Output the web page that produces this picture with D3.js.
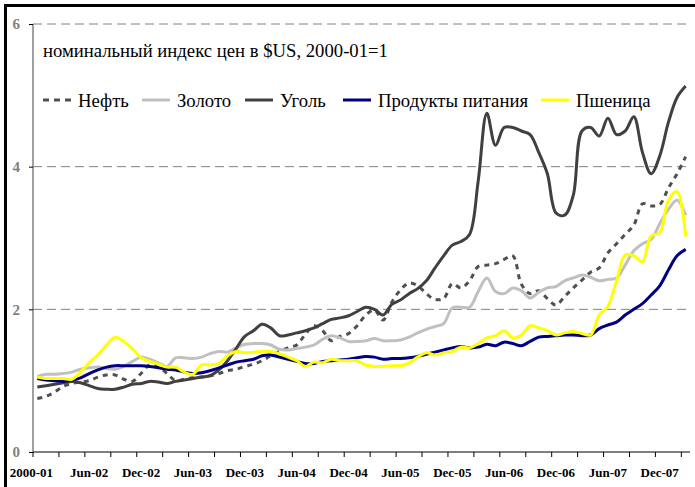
<!DOCTYPE html>
<html>
<head>
<meta charset="utf-8">
<script src="https://cdn.jsdelivr.net/npm/d3@7"></script>
<style>
  body { margin: 0; background: #fff; }
  svg { display: block; font-family: "Liberation Serif", "Times New Roman", serif; }
</style>
</head>
<body>
<svg id="chart"></svg>
<script>
const width = 695;
const height = 487;

// categories: first point is the base, then monthly Jan-02 .. Mar-08
const fmt = d3.timeFormat("%b-%y");
const months = d3.range(76).map(i => i === 0 ? "2000-01" : fmt(new Date(2001, 11 + i, 1)));

const oil = [0.75, 0.78, 0.84, 0.92, 0.96, 0.98, 1.00, 1.05, 1.08, 1.08,
  1.02, 0.99, 1.10, 1.22, 1.20, 1.10, 1.00, 1.02, 1.04, 1.05,
  1.07, 1.10, 1.14, 1.16, 1.20, 1.23, 1.28, 1.35, 1.41, 1.46,
  1.50, 1.65, 1.77, 1.70, 1.56, 1.62, 1.66, 1.77, 1.92, 1.99,
  1.85, 2.10, 2.27, 2.37, 2.33, 2.22, 2.14, 2.15, 2.36, 2.30,
  2.40, 2.60, 2.62, 2.64, 2.70, 2.75, 2.35, 2.22, 2.26, 2.15,
  2.06, 2.18, 2.30, 2.41, 2.52, 2.58, 2.79, 2.92, 3.05, 3.18,
  3.48, 3.45, 3.47, 3.70, 3.90, 4.14];

const gold = [1.06, 1.09, 1.09, 1.10, 1.12, 1.16, 1.18, 1.19, 1.17, 1.16,
  1.20, 1.27, 1.33, 1.30, 1.25, 1.20, 1.32, 1.32, 1.31, 1.33,
  1.38, 1.41, 1.40, 1.46, 1.51, 1.52, 1.52, 1.50, 1.44, 1.43,
  1.45, 1.47, 1.50, 1.58, 1.63, 1.60, 1.55, 1.55, 1.56, 1.59,
  1.56, 1.56, 1.57, 1.61, 1.67, 1.72, 1.76, 1.80, 2.02, 2.03,
  2.03, 2.25, 2.44, 2.25, 2.22, 2.30, 2.26, 2.16, 2.24, 2.30,
  2.32, 2.40, 2.44, 2.48, 2.45, 2.40, 2.42, 2.44, 2.62, 2.82,
  2.92, 2.98, 3.20, 3.40, 3.53, 3.32];

const coal = [0.91, 0.93, 0.95, 0.97, 0.99, 0.97, 0.93, 0.89, 0.88, 0.88,
  0.91, 0.95, 0.96, 0.99, 0.98, 0.96, 0.99, 1.01, 1.03, 1.05,
  1.07, 1.15, 1.28, 1.45, 1.62, 1.70, 1.79, 1.74, 1.63, 1.64,
  1.67, 1.70, 1.74, 1.80, 1.86, 1.88, 1.91, 1.97, 2.03, 2.00,
  1.92, 2.07, 2.13, 2.22, 2.29, 2.40, 2.58, 2.75, 2.90, 2.95,
  3.05, 3.80, 4.75, 4.30, 4.55, 4.55, 4.50, 4.45, 4.20, 3.90,
  3.35, 3.32, 3.60, 4.50, 4.55, 4.43, 4.68, 4.45, 4.50, 4.70,
  4.20, 3.90, 4.15, 4.62, 4.97, 5.13];

const food = [1.03, 1.01, 1.00, 0.99, 1.01, 1.04, 1.10, 1.15, 1.19, 1.21,
  1.21, 1.21, 1.21, 1.20, 1.18, 1.16, 1.15, 1.12, 1.10, 1.11,
  1.14, 1.18, 1.22, 1.26, 1.28, 1.30, 1.35, 1.36, 1.33, 1.30,
  1.27, 1.24, 1.24, 1.27, 1.28, 1.29, 1.30, 1.32, 1.34, 1.33,
  1.30, 1.31, 1.31, 1.32, 1.34, 1.37, 1.40, 1.43, 1.46, 1.48,
  1.46, 1.47, 1.51, 1.49, 1.54, 1.52, 1.49, 1.55, 1.61, 1.62,
  1.63, 1.64, 1.64, 1.63, 1.64, 1.73, 1.78, 1.82, 1.92, 2.00,
  2.08, 2.20, 2.33, 2.55, 2.75, 2.84];

const wheat = [1.05, 1.03, 1.03, 1.03, 1.02, 1.12, 1.25, 1.36, 1.50, 1.61,
  1.55, 1.45, 1.32, 1.27, 1.23, 1.19, 1.19, 1.12, 1.09, 1.22,
  1.22, 1.24, 1.35, 1.41, 1.39, 1.40, 1.41, 1.41, 1.38, 1.33,
  1.28, 1.20, 1.26, 1.25, 1.30, 1.28, 1.28, 1.28, 1.22, 1.20,
  1.20, 1.21, 1.21, 1.25, 1.33, 1.39, 1.36, 1.39, 1.41, 1.47,
  1.46, 1.52, 1.60, 1.63, 1.70, 1.60, 1.64, 1.77, 1.74, 1.70,
  1.64, 1.67, 1.69, 1.66, 1.64, 1.92, 2.04, 2.40, 2.76, 2.75,
  2.67, 3.03, 3.07, 3.53, 3.65, 3.02];

const yTicks = [0, 2, 4, 6];
const title = "номинальный индекс цен в $US, 2000-01=1";

const series = [
  { name: "Нефть", values: oil, color: "#505050", dash: "5,5", legendX: 43 },
  { name: "Золото", values: gold, color: "#c0c0c0", dash: null, legendX: 142 },
  { name: "Уголь", values: coal, color: "#404040", dash: null, legendX: 245 },
  { name: "Продукты питания", values: food, color: "#000080", dash: null, legendX: 343 },
  { name: "Пшеница", values: wheat, color: "#ffff00", dash: null, legendX: 541 }
];

const svg = d3.select("#chart")
    .attr("width", width)
    .attr("height", height);

// outer chart frame (only left/top edges fall inside the picture)
svg.append("rect")
    .attr("x", 5.5).attr("y", 5.5)
    .attr("width", 720).attr("height", 520)
    .attr("fill", "#fff")
    .attr("stroke", "#000")
    .attr("stroke-width", 3);

const plot = { left: 33, right: 690, top: 24, bottom: 452 };

const x = d3.scaleBand()
    .domain(months)
    .range([plot.left, plot.right])
    .padding(0);

const y = d3.scaleLinear()
    .domain([0, 6])
    .range([plot.bottom, plot.top]);

const cx = i => x(months[i]) + x.bandwidth() / 2;

// gridlines
svg.append("g")
    .selectAll("line")
    .data(yTicks.filter(d => d > 0))
  .enter().append("line")
    .attr("x1", plot.left).attr("x2", plot.right)
    .attr("y1", d => y(d)).attr("y2", d => y(d))
    .attr("stroke", "#808080")
    .attr("stroke-width", 1)
    .attr("stroke-dasharray", "9,5");

// y axis
const yAxis = svg.append("g")
    .attr("transform", `translate(${plot.left},0)`)
    .call(d3.axisLeft(y).tickValues(yTicks).tickSize(4).tickPadding(9).tickFormat(d3.format("d")));
yAxis.select(".domain").attr("stroke", "#808080").attr("stroke-width", 1.5)
    .attr("d", `M0,${plot.top}V${plot.bottom}`);
yAxis.selectAll(".tick line").attr("stroke", "#000");
yAxis.selectAll(".tick text")
    .attr("fill", "#808080")
    .attr("font-family", "Liberation Serif")
    .attr("font-weight", "bold")
    .attr("font-size", 15);

// x axis
const xAxis = svg.append("g")
    .attr("transform", `translate(0,${plot.bottom})`);
xAxis.append("line")
    .attr("x1", plot.left).attr("x2", plot.right)
    .attr("stroke", "#000").attr("stroke-width", 1);
xAxis.selectAll(".tk")
    .data(months.filter((d, i) => i % 3 === 0))
  .enter().append("line")
    .attr("class", "tk")
    .attr("x1", d => x(d)).attr("x2", d => x(d))
    .attr("y1", 0).attr("y2", 5)
    .attr("stroke", "#000");
xAxis.selectAll(".lbl")
    .data(months.map((d, i) => ({ d, i })).filter(o => o.i % 6 === 0))
  .enter().append("text")
    .attr("class", "lbl")
    .attr("x", o => cx(o.i) + (o.i === 0 ? -6 : 0))
    .attr("y", 25)
    .attr("text-anchor", "middle")
    .attr("font-weight", "bold")
    .attr("font-size", 13)
    .attr("fill", "#000")
    .text(o => o.d);

// lines
const line = d3.line()
    .x((d, i) => cx(i))
    .y(d => y(d))
    .curve(d3.curveCatmullRom.alpha(0.5));

svg.append("g")
    .selectAll("path")
    .data(series)
  .enter().append("path")
    .attr("d", s => line(s.values))
    .attr("fill", "none")
    .attr("stroke", s => s.color)
    .attr("stroke-width", 3)
    .attr("stroke-dasharray", s => s.dash)
    .attr("stroke-linejoin", "round");

// title
svg.append("text")
    .attr("x", 43)
    .attr("y", 57)
    .attr("font-size", 18.7)
    .attr("fill", "#000")
    .text(title);

// legend
const legend = svg.append("g")
    .selectAll("g")
    .data(series)
  .enter().append("g")
    .attr("transform", s => `translate(${s.legendX},100)`);

legend.append("line")
    .attr("x1", 0).attr("x2", 28)
    .attr("stroke", s => s.color)
    .attr("stroke-width", 3)
    .attr("stroke-dasharray", s => s.dash ? "6,5" : null);

legend.append("text")
    .attr("x", 35)
    .attr("y", 7)
    .attr("font-size", 18.7)
    .attr("fill", "#000")
    .text(s => s.name);
</script>
</body>
</html>
